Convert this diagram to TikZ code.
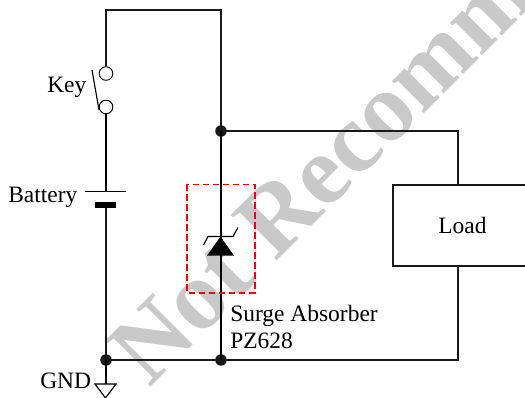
\documentclass[tikz,border=0pt]{standalone}
\usepackage{fontspec}
\setmainfont{Liberation Serif}
\tikzset{
  wire/.style={line width=1.4pt,black!90,line join=miter},
  thinwire/.style={line width=0.85pt,black},
  stem/.style={thinwire,xshift=-0.375pt},
  contact/.style={circle,draw=black,line width=0.7pt,fill=white,minimum size=10.2pt,inner sep=0pt},
  junction/.style={circle,fill=black!90,minimum size=8.6pt,inner sep=0pt},
  lbl/.style={inner sep=0pt,font=\fontsize{17.6}{20}\selectfont,anchor=base west},
  loadbox/.style={draw=black!90,line width=1.4pt,fill=white,minimum width=104.25pt,minimum height=61.1pt,inner sep=0pt,font=\fontsize{17.6}{20}\selectfont},
  guard/.style={draw=red,line width=1.3pt,dash pattern=on 5pt off 2.5pt},
  mark text/.style={inner sep=0pt,text=black!21,rotate=45,anchor=base west,font=\fontsize{74}{85}\selectfont\bfseries}
}
\begin{document}
\begin{tikzpicture}[x=0.75pt,y=-0.75pt]
\useasboundingbox (0,0) rectangle (525,398);
\clip (0,0) rectangle (525,398);
\node[mark text] (wm) at (149,389) {Not Recommended};
% coordinates
\coordinate (tl) at (106,10);
\coordinate (tr) at (221,10);
\coordinate (br) at (458,360);
\coordinate (rt) at (458,131);
\coordinate (plateA) at (106,191.5);
\coordinate (plateB) at (106,205);
% load
\node[loadbox] (load) at (462.5,225.5) {Load};
% wires
\node[contact] (k1) at (106,73.5) {};
\node[contact] (k2) at (106,107) {};
\node[junction] (j1) at (221,131) {};
\node[junction] (j2) at (221,360) {};
\node[junction] (j3) at (106,360) {};
\draw[wire] (k1.north) -- (tl) -- (tr) -- (j1.center);
\draw[wire] (j1.center) -- (rt) -- (rt |- load.north);
\draw[wire] (rt |- load.south) -- (br) -- (j3.center);
\draw[stem] (k2.south) -- (plateA);
\draw[wire] (plateB) -- (j3.center);
\draw[stem] (j1.center) -- (j2.center);
\draw[thinwire] (92,70) -- (99,110);
% battery
\draw[thinwire] (85,191.5) -- (126,191.5);
\fill[black] (95,202) rectangle (116,208);
% diode
\draw[guard] (187,184.5) rectangle (255,292.7);
\fill[black] (220.5,236.5) -- (234,255.7) -- (207,255.7) -- cycle;
\draw[thinwire] (203.5,245) -- (208,236.5) -- (233,236.5) -- (238,227.5);
% ground
\coordinate (g) at (106,384);
\draw[stem] (j3.center) -- (g);
\draw[thinwire] (95,384) -- (116,384) -- (105.5,398) -- cycle;
% labels
\node[lbl] (key) at (47,93) {Key};
\node[lbl] (bat) at (8,203) {Battery};
\node[lbl] (gnd) at (40,389) {GND};
\node[lbl] (sa) at (230,322) {Surge Absorber};
\node[lbl] (pz) at (230,349) {PZ628};
\end{tikzpicture}
\end{document}
